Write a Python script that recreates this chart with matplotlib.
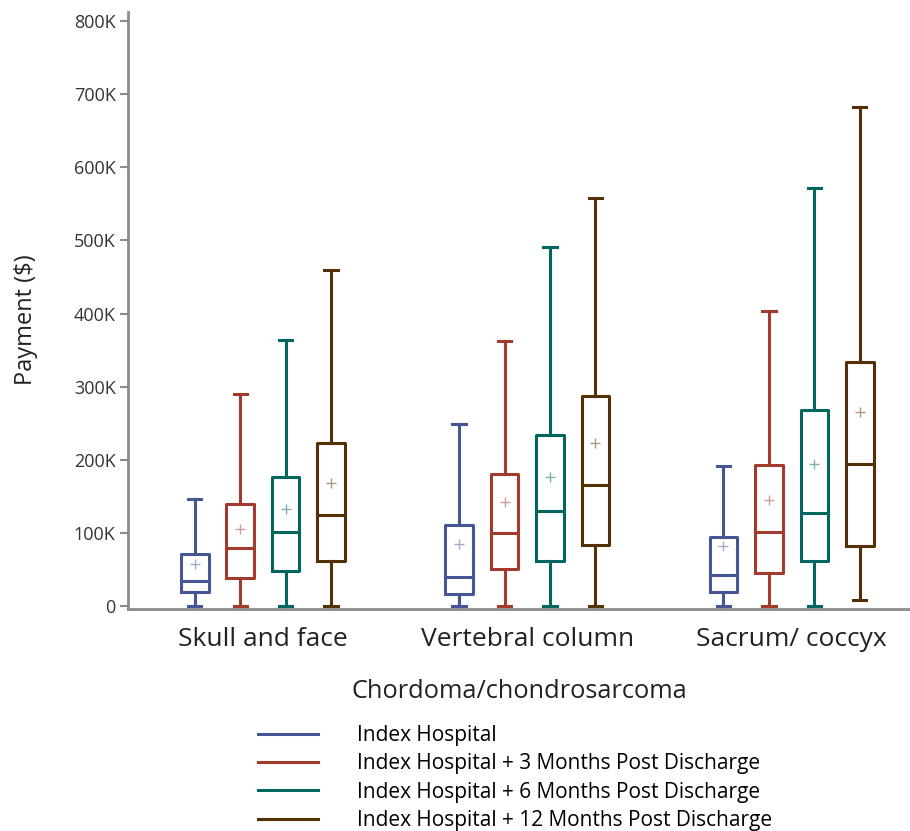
import matplotlib
matplotlib.use('Agg')
import matplotlib.pyplot as plt
from matplotlib.lines import Line2D
from matplotlib.ticker import FuncFormatter

# 分组与系列
groups = ['Skull and face', 'Vertebral column', 'Sacrum/ coccyx']
series = ['Index Hospital',
          'Index Hospital + 3 Months Post Discharge',
          'Index Hospital + 6 Months Post Discharge',
          'Index Hospital + 12 Months Post Discharge']
colors = ['#445694', '#A23A2E', '#01665E', '#543005']

# 箱线图统计量 (单位: 美元), 每行是一个组, 每列是一个系列
whislo = [[0, 0, 0, 0],
          [0, 0, 0, 0],
          [0, 0, 0, 9000]]
q1 = [[19000, 38000, 48000, 62000],
      [16000, 51000, 62000, 83000],
      [20000, 46000, 62000, 82000]]
med = [[35000, 79000, 101000, 124000],
       [40000, 100000, 130000, 165000],
       [42000, 102000, 128000, 195000]]
q3 = [[72000, 140000, 176000, 223000],
      [111000, 181000, 234000, 287000],
      [94000, 193000, 268000, 334000]]
whishi = [[147000, 290000, 364000, 459000],
          [249000, 362000, 491000, 558000],
          [192000, 403000, 572000, 682000]]
means = [[57000, 106000, 133000, 169000],
         [85000, 142000, 176000, 223000],
         [82000, 145000, 195000, 266000]]

plt.rcParams['font.family'] = ['Open Sans', 'DejaVu Sans']

fig = plt.figure(figsize=(9.1, 8.31), dpi=100)
ax = fig.add_axes([0.1407, 0.267, 0.86, 0.7184])

offsets = [-1.5, -0.5, 0.5, 1.5]
step = 0.172
box_w = 0.105

for j in range(len(series)):
    stats = []
    pos = []
    for i in range(len(groups)):
        stats.append({'whislo': whislo[i][j], 'q1': q1[i][j], 'med': med[i][j],
                      'q3': q3[i][j], 'whishi': whishi[i][j],
                      'mean': means[i][j], 'fliers': []})
        pos.append(i + offsets[j] * step)
    c = colors[j]
    ax.bxp(stats, positions=pos, widths=box_w, showmeans=True, showfliers=False,
           capwidths=0.05,
           boxprops=dict(color=c, linewidth=2.2),
           medianprops=dict(color=c, linewidth=2.2),
           whiskerprops=dict(color=c, linewidth=2.2),
           capprops=dict(color=c, linewidth=2.2),
           meanprops=dict(marker='+', markeredgecolor=c, markersize=7,
                          markeredgewidth=1, alpha=0.5))

ax.set_xlim(-0.51, 2.45)
ax.set_ylim(-4000, 812000)
ax.set_yticks(range(0, 800001, 100000))
ax.yaxis.set_major_formatter(FuncFormatter(lambda v, p: '0' if v == 0 else '%dK' % (v / 1000)))
ax.set_xticks(range(len(groups)))
ax.set_xticklabels(groups, fontsize=19, color='#222222')
ax.tick_params(axis='x', length=0, pad=13)
ax.tick_params(axis='y', length=6, width=1.5, color='#8c8c8c', labelsize=13,
               labelcolor='#333333', pad=3)
for s in ['top', 'right']:
    ax.spines[s].set_visible(False)
for s in ['left', 'bottom']:
    ax.spines[s].set_color('#8c8c8c')
    ax.spines[s].set_linewidth(2)

ax.set_xlabel('Chordoma/chondrosarcoma', fontsize=18.3, color='#222222', labelpad=19)
ax.set_ylabel('Payment ($)', fontsize=17, color='#222222')
ax.yaxis.set_label_coords(-0.115, 0.484)

# 图例
handles = [Line2D([0], [0], color=c, linewidth=2.2) for c in colors]
fig.legend(handles, series, loc='upper left', bbox_to_anchor=(258 / 910, (831 - 725) / 831),
           frameon=False, fontsize=15, handlelength=2.9, handletextpad=1.85,
           labelspacing=0.35, borderpad=0, borderaxespad=0)

plt.savefig('out.png', dpi=100)
